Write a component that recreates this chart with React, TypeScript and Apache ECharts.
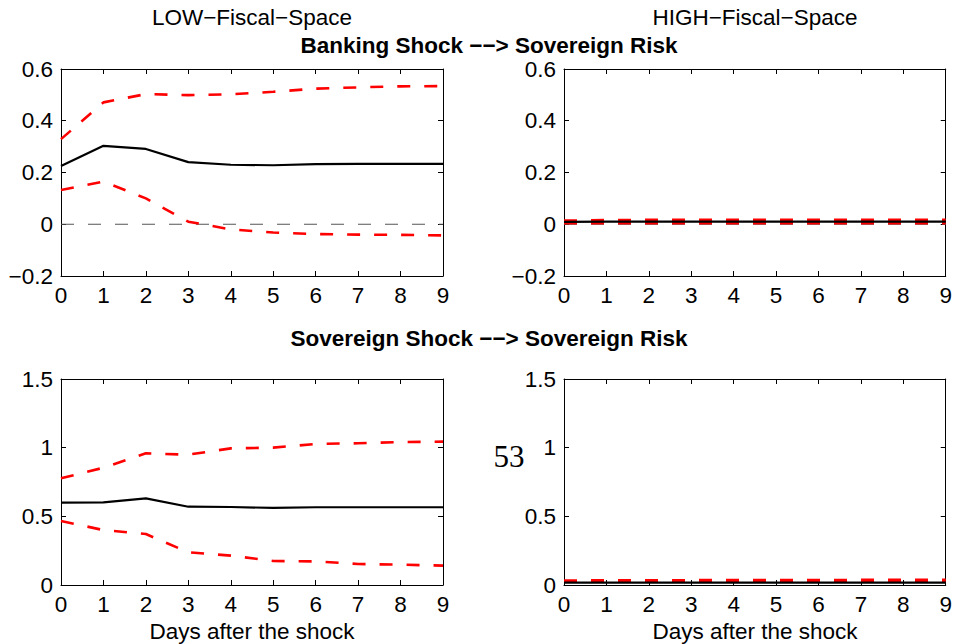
import React, { useEffect, useRef } from "react";
import * as echarts from "echarts";

const days = [0, 1, 2, 3, 4, 5, 6, 7, 8, 9];

const bankLowMid = [0.225, 0.303, 0.291, 0.24, 0.23, 0.228, 0.232, 0.233, 0.233, 0.233];
const bankLowUp = [0.329, 0.471, 0.503, 0.499, 0.502, 0.512, 0.524, 0.529, 0.533, 0.534];
const bankLowLo = [0.132, 0.165, 0.1, 0.01, -0.02, -0.032, -0.038, -0.04, -0.041, -0.043];

const bankHighMid = [0.009, 0.01, 0.01, 0.01, 0.01, 0.01, 0.01, 0.01, 0.01, 0.01];
const bankHighUp = [0.014, 0.016, 0.017, 0.017, 0.017, 0.017, 0.017, 0.017, 0.017, 0.017];
const bankHighLo = [0.004, 0.004, 0.004, 0.004, 0.004, 0.004, 0.004, 0.004, 0.004, 0.004];

const sovLowMid = [0.6, 0.602, 0.631, 0.57, 0.568, 0.561, 0.566, 0.566, 0.566, 0.566];
const sovLowUp = [0.777, 0.854, 0.959, 0.949, 0.995, 1.0, 1.027, 1.032, 1.041, 1.044];
const sovLowLo = [0.466, 0.4, 0.371, 0.238, 0.214, 0.175, 0.172, 0.153, 0.148, 0.141];

const sovHighMid = [0.018, 0.018, 0.018, 0.018, 0.018, 0.018, 0.018, 0.018, 0.018, 0.018];
const sovHighUp = [0.033, 0.034, 0.035, 0.035, 0.036, 0.036, 0.036, 0.037, 0.038, 0.038];
const sovHighLo = [0.024, 0.024, 0.024, 0.025, 0.025, 0.025, 0.025, 0.025, 0.026, 0.026];

const colTitles = ["LOW\u2212Fiscal\u2212Space", "HIGH\u2212Fiscal\u2212Space"];
const rowTitles = [
  "Banking Shock \u2212\u2212> Sovereign Risk",
  "Sovereign Shock \u2212\u2212> Sovereign Risk",
];
const xAxisTitle = "Days after the shock";
const pageNumber = "53";

const FONT = "'Liberation Sans', Arial, Helvetica, sans-serif";
const FS = 22.5;

const fmtNum = (v: number) => {
  const s = String(Math.round(v * 100) / 100);
  return s.replace("-", "\u2212");
};

export default function App() {
  const ref = useRef<HTMLDivElement>(null);

  useEffect(() => {
    document.body.style.margin = "0";
    if (!ref.current) return;
    const chart = echarts.init(ref.current, undefined, { renderer: "svg" });

    const grids = [
      { left: 61, top: 69, width: 382, height: 207, min: -0.2, max: 0.6, interval: 0.2 },
      { left: 564, top: 69, width: 382, height: 207, min: -0.2, max: 0.6, interval: 0.2 },
      { left: 61, top: 379, width: 382, height: 206, min: 0, max: 1.5, interval: 0.5 },
      { left: 564, top: 379, width: 382, height: 206, min: 0, max: 1.5, interval: 0.5 },
    ];
    const panels = [
      [bankLowMid, bankLowUp, bankLowLo],
      [bankHighMid, bankHighUp, bankHighLo],
      [sovLowMid, sovLowUp, sovLowLo],
      [sovHighMid, sovHighUp, sovHighLo],
    ];

    const axisLine = { show: true, onZero: false, lineStyle: { color: "#000", width: 1 } };
    const tick = { show: true, inside: true, length: 5, lineStyle: { color: "#000", width: 1 } };
    const label = { color: "#000", fontSize: FS, fontFamily: FONT };

    const xAxis: any[] = [];
    const yAxis: any[] = [];
    const series: any[] = [];

    grids.forEach((g, i) => {
      xAxis.push({
        type: "value", gridIndex: i, position: "bottom", min: 0, max: 9, interval: 1,
        axisLine, axisTick: tick, splitLine: { show: false },
        axisLabel: { ...label, margin: 8 },
      });
      xAxis.push({
        type: "value", gridIndex: i, position: "top", min: 0, max: 9, interval: 1,
        axisLine, axisTick: tick, splitLine: { show: false }, axisLabel: { show: false },
      });
      yAxis.push({
        type: "value", gridIndex: i, position: "left", min: g.min, max: g.max, interval: g.interval,
        axisLine, axisTick: tick, splitLine: { show: false },
        axisLabel: { ...label, margin: 8, formatter: (v: number) => fmtNum(v) },
      });
      yAxis.push({
        type: "value", gridIndex: i, position: "right", min: g.min, max: g.max, interval: g.interval,
        axisLine, axisTick: tick, splitLine: { show: false }, axisLabel: { show: false },
      });
      const [mid, up, lo] = panels[i];
      const common = {
        type: "line", xAxisIndex: 2 * i, yAxisIndex: 2 * i, showSymbol: false, symbol: "none",
        silent: true,
      };
      if (g.min < 0) {
        series.push({
          ...common,
          data: [[0, 0], [9, 0]],
          lineStyle: { color: "#555", width: 1.2, type: [13, 14] },
        });
      }
      series.push({
        ...common,
        data: days.map((d, k) => [d, up[k]]),
        lineStyle: { color: "#ff0000", width: 2.6, type: [13, 14] },
      });
      series.push({
        ...common,
        data: days.map((d, k) => [d, lo[k]]),
        lineStyle: { color: "#ff0000", width: 2.6, type: [13, 14] },
      });
      series.push({
        ...common,
        data: days.map((d, k) => [d, mid[k]]),
        lineStyle: { color: "#000", width: 2.2, type: "solid" },
      });
    });

    const textEl = (x: number, y: number, text: string, extra: any = {}) => ({
      type: "text",
      x,
      y,
      style: {
        text,
        fill: "#000",
        fontSize: FS,
        fontFamily: FONT,
        textAlign: "center",
        textVerticalAlign: "middle",
        ...extra,
      },
    });

    chart.setOption({
      animation: false,
      backgroundColor: "#fff",
      grid: grids.map((g) => ({ left: g.left, top: g.top, width: g.width, height: g.height })),
      xAxis,
      yAxis,
      series,
      graphic: [
        textEl(252, 17, colTitles[0]),
        textEl(755, 17, colTitles[1]),
        textEl(489, 45, rowTitles[0], { fontWeight: "bold" }),
        textEl(489, 338, rowTitles[1], { fontWeight: "bold" }),
        textEl(252, 631, xAxisTitle),
        textEl(755, 631, xAxisTitle),
        textEl(509, 456, pageNumber, {
          fontFamily: "'Liberation Serif', 'DejaVu Serif', serif",
          fontSize: 31,
        }),
      ],
    });

    return () => chart.dispose();
  }, []);

  return <div ref={ref} style={{ width: 955, height: 644 }} />;
}
